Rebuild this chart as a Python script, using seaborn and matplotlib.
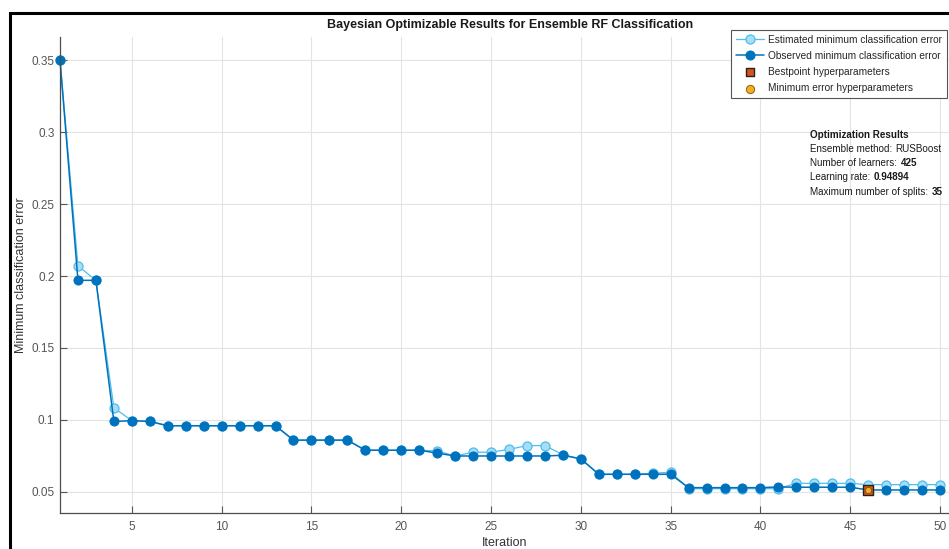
import numpy as np
import pandas as pd
import matplotlib
matplotlib.use("Agg")
import matplotlib.pyplot as plt
import seaborn as sns
from matplotlib.patches import Rectangle

# data
iterations = list(range(1, 51))
observed = [0.350, 0.197, 0.197, 0.099, 0.0995, 0.099,
            0.096, 0.096, 0.096, 0.096, 0.096, 0.096, 0.096,
            0.086, 0.086, 0.086, 0.086,
            0.079, 0.079, 0.079, 0.079,
            0.077, 0.075, 0.075, 0.075, 0.075, 0.075, 0.075,
            0.0755, 0.073,
            0.0623, 0.0623, 0.0623, 0.0623, 0.0623,
            0.053, 0.053, 0.053, 0.053, 0.053, 0.0535,
            0.0533, 0.0533, 0.0533, 0.0533,
            0.0514, 0.0514, 0.0514, 0.0514, 0.0514]
estimated = [0.350, 0.207, 0.197, 0.1085, 0.0995, 0.099,
             0.096, 0.096, 0.096, 0.096, 0.096, 0.096, 0.096,
             0.086, 0.086, 0.086, 0.086,
             0.079, 0.079, 0.079, 0.079,
             0.0785, 0.075, 0.0776, 0.0776, 0.0796, 0.0822, 0.0822,
             0.0759, 0.073,
             0.0623, 0.0623, 0.0623, 0.063, 0.0637,
             0.0523, 0.0523, 0.0523, 0.0523, 0.0523, 0.0523,
             0.056, 0.056, 0.056, 0.056,
             0.0551, 0.0551, 0.0551, 0.0551, 0.0551]
best_iter = [46]
best_err = [0.0514]

result_labels = ["Ensemble method:", "Number of learners:", "Learning rate:",
                 "Maximum number of splits:"]
result_values = ["RUSBoost", "425", "0.94894", "35"]

df = pd.DataFrame({"Iteration": iterations, "observed": observed, "estimated": estimated})
df_best = pd.DataFrame({"Iteration": best_iter, "err": best_err})

sns.set_style("whitegrid")
plt.rcParams["font.family"] = ["Liberation Sans", "DejaVu Sans"]

fig = plt.figure(figsize=(9.49, 5.49), dpi=100)
ax = fig.add_axes([60 / 949, 36 / 549, 889 / 949, 476 / 549])

c_obs = "#0072BD"
c_est = "#4DBEEE"

sns.lineplot(data=df, x="Iteration", y="estimated", ax=ax, color=c_est, linewidth=0.9,
             marker="o", markersize=6.5, markerfacecolor="#A8DDF5", markeredgecolor=c_est,
             markeredgewidth=0.9, clip_on=False, label="Estimated minimum classification error")
sns.lineplot(data=df, x="Iteration", y="observed", ax=ax, color=c_obs, linewidth=1.1,
             marker="o", markersize=6.5, markerfacecolor=c_obs, markeredgecolor=c_obs,
             clip_on=False, label="Observed minimum classification error")
sns.scatterplot(data=df_best, x="Iteration", y="err", ax=ax, marker="s", s=60,
                color="#D95319", edgecolor="#222222", linewidth=1.0, zorder=5,
                label="Bestpoint hyperparameters")
sns.scatterplot(data=df_best, x="Iteration", y="err", ax=ax, marker="o", s=20,
                color="#EDB120", edgecolor="#8a4a10", linewidth=0.6, zorder=6,
                label="Minimum error hyperparameters")

ax.set_xlim(1, 50.5)
ax.set_ylim(0.0354, 0.366)
ax.set_xticks([5, 10, 15, 20, 25, 30, 35, 40, 45, 50])
ax.set_yticks([0.05, 0.1, 0.15, 0.2, 0.25, 0.3, 0.35])
ax.set_yticklabels(["0.05", "0.1", "0.15", "0.2", "0.25", "0.3", "0.35"])
ax.grid(True, color="#e3e3e3", linewidth=0.8)
ax.tick_params(direction="in", length=5, width=0.8, colors="#555555", labelsize=8.5,
               bottom=True, left=True)
ax.tick_params(axis="y", pad=4)
ax.tick_params(axis="x", pad=6)
for s in ["top", "right"]:
    ax.spines[s].set_visible(False)
for s in ["left", "bottom"]:
    ax.spines[s].set_color("#4d4d4d")
    ax.spines[s].set_linewidth(0.9)

ax.set_xlabel("Iteration", fontsize=9, color="#333333", labelpad=3)
ax.set_ylabel("Minimum classification error", fontsize=9, color="#333333")
ax.yaxis.set_label_coords(-33 / 889, 0.5)

leg = ax.legend(loc="upper right", bbox_to_anchor=(947 / 949, 1 - 30 / 549),
                bbox_transform=fig.transFigure, fontsize=7.3, frameon=True,
                fancybox=False, borderpad=0.45, labelspacing=0.62, handlelength=2.8,
                handletextpad=0.4, borderaxespad=0)
leg.get_frame().set_edgecolor("#555555")
leg.get_frame().set_linewidth(0.8)
leg.get_frame().set_alpha(1)
leg.legend_handles[2].set_sizes([36])
leg.legend_handles[3].set_sizes([36])

fig.text(510 / 949, 1 - 25 / 549, "Bayesian Optimizable Results for Ensemble RF Classification",
         ha="center", va="center", fontsize=9, fontweight="bold", color="#1a1a1a")

# optimization results text block
tx = 810 / 949
fs = 7.1
fig.text(tx, 1 - 135 / 549, "Optimization Results", ha="left", va="center",
         fontsize=fs, fontweight="bold", color="#1a1a1a")
for i, (lab, val) in enumerate(zip(result_labels, result_values)):
    y = 1 - (149 + 14.2 * i) / 549
    t = fig.text(tx, y, lab, ha="left", va="center", fontsize=fs, color="#1a1a1a")
    bold = "normal" if i == 0 else "bold"
    ax.annotate(val, xy=(1, 0.5), xycoords=t, xytext=(2.5, 0), textcoords="offset points",
                ha="left", va="center", fontsize=fs, fontweight=bold, color="#1a1a1a")

# outer window frame
fig.add_artist(Rectangle((10 / 949, -0.2), 1.5, 1.2 - 13 / 549, transform=fig.transFigure,
                         fill=False, edgecolor="black", linewidth=2.2))

fig.savefig("out.png", dpi=100)
